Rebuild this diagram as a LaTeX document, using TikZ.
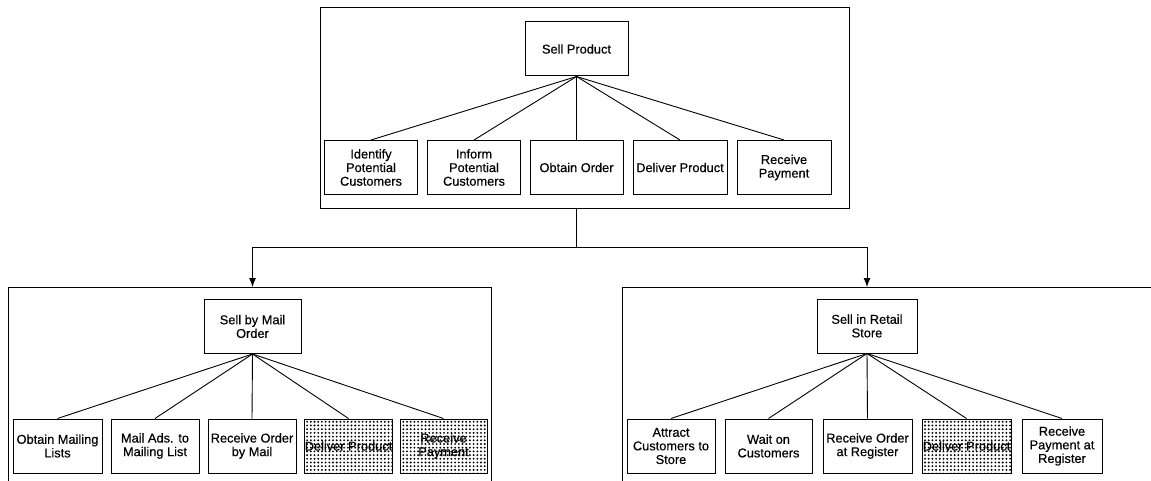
\documentclass[tikz,border=0pt]{standalone}
\usepackage{fontspec}
\setmainfont[FakeBold=0.4]{Liberation Sans}
\usetikzlibrary{arrows.meta,patterns.meta}

% dense dot screen used for shared activities
\pgfdeclarepattern{
  name=screendots, type=uncolored,
  bottom left={\pgfpoint{-2pt}{-2pt}}, top right={\pgfpoint{2pt}{2pt}},
  tile size={\pgfpoint{3.7pt}{3.7pt}},
  code={\pgfpathcircle{\pgfpointorigin}{1.05pt}\pgfusepath{fill}}
}

\tikzset{
  actbox/.style={draw, line width=1pt, align=center, inner sep=0pt,
    minimum height=54pt, font=\fontsize{12.8}{13.6}\selectfont},
  rootbox/.style={actbox, minimum height=54pt},
  shared/.style={actbox, pattern={screendots}},
  frame/.style={draw, line width=0.8pt, inner sep=0pt},
  link/.style={line width=0.9pt},
  flow/.style={line width=0.9pt, -{Latex[length=9pt,width=7pt]}}
}

\begin{document}
\begin{tikzpicture}[x=1pt,y=-1pt]
\useasboundingbox (0,0) rectangle (1151,481);
\clip (0,0) rectangle (1151,481);

% enclosing frames
\node[frame, minimum width=529pt, minimum height=201pt, anchor=north west] (topframe) at (320,7) {};
\node[frame, minimum width=483pt, minimum height=230pt, anchor=north west] (mailframe) at (8,287) {};
\node[frame, minimum width=560pt, minimum height=230pt, anchor=north west] (retailframe) at (622,287) {};

% top level decomposition
\node[rootbox, minimum width=103pt] (sell) at (576.5,49) {Sell Product};
\node[actbox, minimum width=93pt] (t1) at (371,167.5) {Identify\\Potential\\Customers};
\node[actbox, minimum width=93pt] (t2) at (474,167.5) {Inform\\Potential\\Customers};
\node[actbox, minimum width=93pt] (t3) at (576.5,167.5) {Obtain Order};
\node[actbox, minimum width=94pt] (t4) at (680,167.5) {Deliver Product};
\node[actbox, minimum width=94pt] (t5) at (784,167.5) {Receive\\Payment};
\foreach \c in {t1,t2,t3,t4,t5} \draw[link] (sell.south) -- (\c.north);

% mail order decomposition
\node[rootbox, minimum width=97pt] (mail) at (252.5,326.5) {Sell by Mail\\Order};
\node[actbox, minimum width=89pt] (m1) at (57.5,446) {Obtain Mailing\\Lists};
\node[actbox, minimum width=88pt] (m2) at (155,446) {Mail Ads. to\\Mailing List};
\node[actbox, minimum width=88pt] (m3) at (252,446) {Receive Order\\by Mail};
\node[shared, minimum width=87pt] (m4) at (348.5,446) {Deliver Product};
\node[shared, minimum width=87pt] (m5) at (443.5,446) {Receive\\Payment};
\foreach \c in {m1,m2,m3,m4,m5} \draw[link] (mail.south) -- (\c.north);

% retail store decomposition
\node[rootbox, minimum width=100pt] (retail) at (867,326) {Sell in Retail\\Store};
\node[actbox, minimum width=88pt] (r1) at (671,446) {Attract\\Customers to\\Store};
\node[actbox, minimum width=87pt] (r2) at (768.5,446) {Wait on\\Customers};
\node[actbox, minimum width=89pt] (r3) at (867.5,446) {Receive Order\\at Register};
\node[shared, minimum width=89pt] (r4) at (966.5,446) {Deliver Product};
\node[actbox, minimum width=80pt] (r5) at (1062,446) {Receive\\Payment at\\Register};
\foreach \c in {r1,r2,r3,r4,r5} \draw[link] (retail.south) -- (\c.north);

% specialisation arrows
\coordinate (split) at (576.5,247);
\draw[link] (split |- topframe.south) -- (split);
\draw[flow] (split) -| (mail.north |- mailframe.north);
\draw[flow] (split) -| (retail.north |- retailframe.north);
\end{tikzpicture}
\end{document}
